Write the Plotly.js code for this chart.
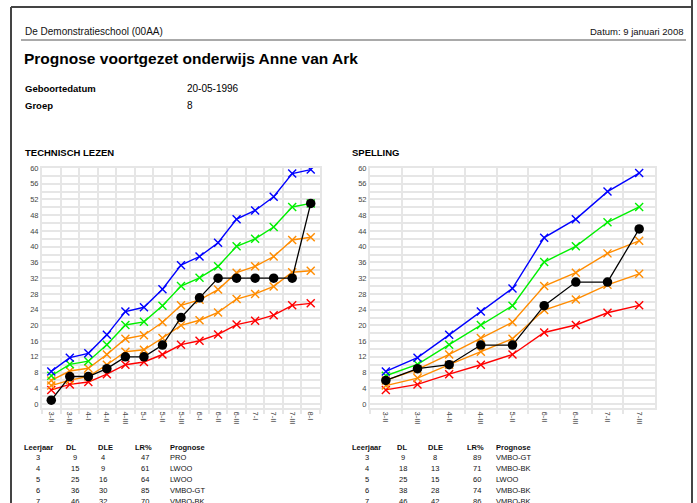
<!DOCTYPE html>
<html>
<head>
<meta charset="utf-8">
<script src="https://cdn.plot.ly/plotly-3.0.1.min.js"></script>
<style>
html,body{margin:0;padding:0;background:#fff;}
#chart{width:697px;height:503px;}
</style>
</head>
<body>
<div id="chart"></div>
<script>
// ---- Data: Technisch lezen ----
const tlCategories = ["3-II","3-III","4-I","4-II","4-III","5-I","5-II","5-III","6-I","6-II","6-III","7-I","7-II","7-III","8-I"];
const tlBlue   = [8.3, 11.8, 12.9, 17.6, 23.5, 24.6, 29.2, 35.3, 37.5, 41.0, 47.0, 49.2, 52.7, 58.6, 59.6];
const tlGreen  = [7.2, 10.1, 10.9, 15.1, 20.1, 20.9, 25.0, 30.0, 32.1, 35.0, 40.1, 42.0, 45.0, 50.1, 51.0];
const tlOrange1= [6.0, 8.4, 9.1, 12.6, 16.6, 17.5, 20.8, 25.1, 26.5, 29.1, 33.4, 35.0, 37.5, 41.7, 42.4];
const tlOrange2= [4.7, 6.1, 7.0, 10.0, 13.3, 13.8, 16.8, 20.0, 21.3, 23.3, 26.7, 28.0, 29.9, 33.5, 33.9];
const tlRed    = [3.6, 5.0, 5.6, 7.6, 10.0, 10.7, 12.6, 15.1, 16.1, 17.7, 20.2, 21.2, 22.6, 25.1, 25.6];
const tlStudent= [1, 7, 7, 9, 12, 12, 15, 22, 27, 32, 32, 32, 32, 32, 51];

// ---- Data: Spelling ----
const spCategories = ["3-II","3-III","4-II","4-III","5-II","6-II","6-III","7-II","7-III"];
const spBlue   = [8.3, 11.8, 17.6, 23.5, 29.4, 42.3, 47.0, 54.0, 58.7];
const spGreen  = [7.2, 10.1, 15.1, 20.1, 25.0, 36.1, 40.1, 46.2, 50.1];
const spOrange1= [6.0, 8.8, 12.6, 16.8, 20.8, 30.0, 33.4, 38.3, 41.5];
const spOrange2= [4.7, 6.6, 10.0, 13.3, 16.6, 23.9, 26.6, 30.3, 33.1];
const spRed    = [3.6, 5.0, 7.6, 10.0, 12.6, 18.2, 20.1, 23.2, 25.1];
const spStudent= [6, 9, 10, 15, 15, 25, 31, 31, 44.5];

// ---- Tables ----
const tableHeader = ["Leerjaar","DL","DLE","LR%","Prognose"];
const tlLeerjaar = ["3","4","5","6","7"];
const tlDL       = ["9","15","25","36","46"];
const tlDLE      = ["4","9","16","30","32"];
const tlLR       = ["47","61","64","85","70"];
const tlPrognose = ["PRO","LWOO","LWOO","VMBO-GT","VMBO-BK"];
const spLeerjaar = ["3","4","5","6","7"];
const spDL       = ["9","18","25","38","46"];
const spDLE      = ["8","13","15","28","42"];
const spLR       = ["89","71","60","74","86"];
const spPrognose = ["VMBO-GT","VMBO-BK","LWOO","VMBO-BK","VMBO-BK"];

const W = 697, H = 503;
const px = x => x / W;
const py = y => 1 - y / H;
const FONT = "Liberation Sans, Arial, Helvetica, sans-serif";

const COLORS = {blue:"#0000ff", green:"#00f000", orange:"#ff8c00", red:"#ff0000", black:"#000000"};

function bandTrace(x, y, color, xa, ya) {
  return {x: x, y: y, type: "scatter", mode: "lines+markers", xaxis: xa, yaxis: ya,
    line: {color: color, width: 1.4},
    marker: {symbol: "x-thin", size: 8, color: color, line: {color: color, width: 1.4}},
    hoverinfo: "skip"};
}
function studentTrace(x, y, xa, ya) {
  return {x: x, y: y, type: "scatter", mode: "lines+markers", xaxis: xa, yaxis: ya,
    line: {color: "#000", width: 1.3},
    marker: {symbol: "circle", size: 9.5, color: "#000"},
    hoverinfo: "skip"};
}

const traces = [
  bandTrace(tlCategories, tlRed, COLORS.red, "x", "y"),
  bandTrace(tlCategories, tlOrange2, COLORS.orange, "x", "y"),
  bandTrace(tlCategories, tlOrange1, COLORS.orange, "x", "y"),
  bandTrace(tlCategories, tlGreen, COLORS.green, "x", "y"),
  bandTrace(tlCategories, tlBlue, COLORS.blue, "x", "y"),
  studentTrace(tlCategories, tlStudent, "x", "y"),
  bandTrace(spCategories, spRed, COLORS.red, "x2", "y2"),
  bandTrace(spCategories, spOrange2, COLORS.orange, "x2", "y2"),
  bandTrace(spCategories, spOrange1, COLORS.orange, "x2", "y2"),
  bandTrace(spCategories, spGreen, COLORS.green, "x2", "y2"),
  bandTrace(spCategories, spBlue, COLORS.blue, "x2", "y2"),
  studentTrace(spCategories, spStudent, "x2", "y2")
];

const GRID = "#e6e6e6";
function xAxis(domain, cats, anchor) {
  return {domain: domain, anchor: anchor, type: "category", categoryorder: "array", categoryarray: cats,
    range: [-0.5, cats.length - 0.5], autorange: false,
    tickmode: "linear", tick0: 0, dtick: 1, ticklabeloverflow: "allow",
    tickson: "boundaries", showgrid: true, gridcolor: GRID, gridwidth: 2,
    ticks: "outside", ticklen: 4, tickcolor: GRID, tickwidth: 2,
    tickangle: 90, tickfont: {family: FONT, size: 7.5, color: "#444"},
    showline: true, linecolor: GRID, linewidth: 2, mirror: true, zeroline: false, fixedrange: true};
}
function yAxis(domain, anchor) {
  return {domain: domain, anchor: anchor, range: [-1, 60], autorange: false, tick0: 0, dtick: 4,
    showgrid: true, gridcolor: GRID, gridwidth: 2,
    minor: {dtick: 2, tick0: 0, showgrid: true, gridcolor: GRID, gridwidth: 2},
    ticks: "", tickfont: {family: FONT, size: 7.5, color: "#444"},
    showline: true, linecolor: GRID, linewidth: 2, mirror: true, zeroline: false, fixedrange: true};
}

const ann = [];
function txt(x, y, text, opts) {
  ann.push(Object.assign({xref: "paper", yref: "paper", x: px(x), y: py(y), text: text,
    showarrow: false, xanchor: "left", yanchor: "middle", borderpad: 0,
    font: {family: FONT, size: 9, color: "#000"}}, opts || {}));
}
txt(24, 31, "De Demonstratieschool (00AA)", {font: {family: FONT, size: 10, color: "#111"}});
txt(684, 31, "Datum: 9 januari 2008", {xanchor: "right", font: {family: FONT, size: 9.5, color: "#111"}});
txt(23, 58, "<b>Prognose voortgezet onderwijs Anne van Ark</b>", {font: {family: FONT, size: 15.5, color: "#000"}});
txt(24, 88, "<b>Geboortedatum</b>", {font: {family: FONT, size: 9.5, color: "#000"}});
txt(186, 88, "20-05-1996", {font: {family: FONT, size: 10, color: "#000"}});
txt(24, 105, "<b>Groep</b>", {font: {family: FONT, size: 9.5, color: "#000"}});
txt(186, 105, "8", {font: {family: FONT, size: 10, color: "#000"}});
txt(24, 152, "<b>TECHNISCH LEZEN</b>", {font: {family: FONT, size: 9.5, color: "#000"}});
txt(351, 152, "<b>SPELLING</b>", {font: {family: FONT, size: 9.5, color: "#000"}});

function table(cols, centers, headerY, rowH, data) {
  const f = {family: FONT, size: 7.5, color: "#111"};
  tableHeader.forEach((h, i) => {
    const isLast = i === tableHeader.length - 1;
    txt(centers[i], headerY, "<b>" + h + "</b>", {xanchor: isLast ? "left" : "center", font: f});
  });
  data[0].forEach((_, r) => {
    data.forEach((col, c) => {
      const isLast = c === data.length - 1;
      txt(cols[c], headerY + rowH * (r + 1), col[r], {xanchor: isLast ? "left" : "center", font: f});
    });
  });
}
table([38, 75, 103, 145, 169], [38, 71, 105, 143, 169], 447, 10.8,
  [tlLeerjaar, tlDL, tlDLE, tlLR, tlPrognose]);
table([367, 403, 435, 477, 495], [367, 402, 435, 475, 495], 447, 10.8,
  [spLeerjaar, spDL, spDLE, spLR, spPrognose]);

const shapes = [
  {type: "line", xref: "paper", yref: "paper", x0: px(11), x1: px(692), y0: py(7), y1: py(7), line: {color: "#444", width: 2}},
  {type: "line", xref: "paper", yref: "paper", x0: px(11), x1: px(11), y0: py(7), y1: py(503), line: {color: "#444", width: 2}},
  {type: "line", xref: "paper", yref: "paper", x0: px(692), x1: px(692), y0: py(0), y1: py(503), line: {color: "#444", width: 2}},
  {type: "line", xref: "paper", yref: "paper", x0: px(21), x1: px(686), y0: py(40), y1: py(40), line: {color: "#555", width: 1}}
];

const layout = {
  width: W, height: H, margin: {l: 0, r: 0, t: 0, b: 0},
  paper_bgcolor: "#fff", plot_bgcolor: "#fff", showlegend: false,
  xaxis: xAxis([px(42), px(320)], tlCategories, "y"),
  yaxis: yAxis([py(408), py(168)], "x"),
  xaxis2: xAxis([px(370), px(655)], spCategories, "y2"),
  yaxis2: yAxis([py(408), py(168)], "x2"),
  annotations: ann, shapes: shapes
};

Plotly.newPlot("chart", traces, layout, {displayModeBar: false, staticPlot: true});
</script>
</body>
</html>
